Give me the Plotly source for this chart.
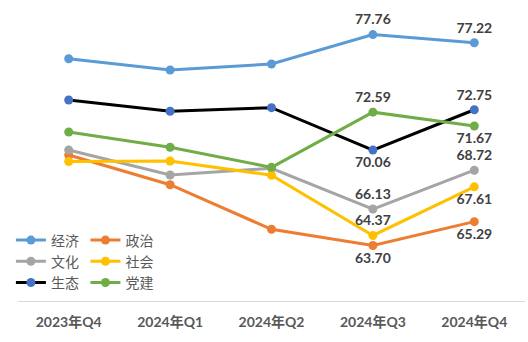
import plotly.graph_objects as go

quarters = ["2023年Q4", "2024年Q1", "2024年Q2", "2024年Q3", "2024年Q4"]

econ = [76.15, 75.40, 75.80, 77.76, 77.22]       # 经济
politics = [69.73, 67.75, 64.78, 63.70, 65.29]   # 政治
culture = [70.07, 68.40, 68.85, 66.13, 68.72]    # 文化
society = [69.30, 69.33, 68.38, 64.37, 67.61]    # 社会
ecology = [73.40, 72.65, 72.89, 70.06, 72.75]    # 生态
party = [71.27, 70.25, 68.91, 72.59, 71.67]      # 党建

NUM_FONT = "Lato, 'Noto Sans CJK SC', sans-serif"
CJK_FONT = "'Noto Sans CJK SC', sans-serif"

series = [
    # name, values, line colour, marker colour, label positions for Q3/Q4, legend
    ("经济", econ, "#5B9BD5", "#5B9BD5", ["top center", "top center"], "legend"),
    ("政治", politics, "#ED7D31", "#ED7D31", ["bottom center", "bottom center"], "legend2"),
    ("文化", culture, "#A5A5A5", "#A5A5A5", ["top center", "top center"], "legend"),
    ("社会", society, "#FFC000", "#FFC000", ["top center", "bottom center"], "legend2"),
    ("生态", ecology, "#000000", "#4472C4", ["bottom center", "top center"], "legend"),
    ("党建", party, "#70AD47", "#70AD47", ["top center", "bottom center"], "legend2"),
]

fig = go.Figure()
for name, vals, lc, mc, pos, lg in series:
    labels = ["" if i < 3 else f"{v:.2f}" for i, v in enumerate(vals)]
    positions = ["top center"] * 3 + pos
    fig.add_trace(go.Scatter(
        x=quarters, y=vals, name=name, mode="lines+markers+text",
        line=dict(color=lc, width=3),
        marker=dict(color=mc, size=9),
        text=labels, textposition=positions,
        textfont=dict(family=NUM_FONT, size=14, color="#404040", weight="bold"),
        legend=lg, cliponaxis=False,
    ))

legend_style = dict(
    orientation="v", yanchor="top", xanchor="left",
    bgcolor="rgba(0,0,0,0)", borderwidth=0,
    font=dict(family=CJK_FONT, size=14, color="#595959"),
    itemwidth=30, tracegroupgap=0,
)

fig.update_layout(
    width=528, height=342,
    margin=dict(l=18, r=3, t=1, b=41),
    paper_bgcolor="white", plot_bgcolor="white",
    showlegend=True,
    legend=dict(x=-0.014, y=0.255, **legend_style),
    legend2=dict(x=0.133, y=0.255, **legend_style),
    xaxis=dict(
        type="category", range=[-0.5, 4.5],
        showgrid=False, zeroline=False,
        showline=True, linecolor="#D9D9D9", linewidth=1,
        ticks="", ticklabelstandoff=8,
        tickfont=dict(family=NUM_FONT, size=14, color="#595959", weight="bold"),
    ),
    yaxis=dict(
        range=[60, 80], visible=False, showgrid=False, zeroline=False,
    ),
)

fig.write_html("out.html")
